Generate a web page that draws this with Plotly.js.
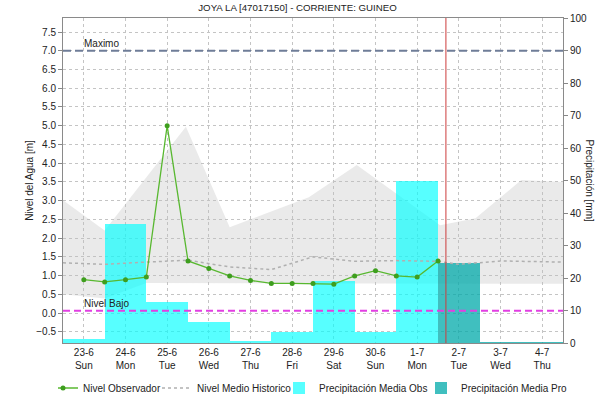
<!DOCTYPE html>
<html>
<head>
<meta charset="utf-8">
<script src="https://cdn.plot.ly/plotly-3.0.1.min.js"></script>
<style>html,body{margin:0;padding:0;background:#fff;}#chart{width:595px;height:397px;}</style>
</head>
<body>
<div id="chart"></div>
<script>
// ---- data ----
const dates = ['23-6','24-6','25-6','26-6','27-6','28-6','29-6','30-6','1-7','2-7','3-7','4-7'];
const weekdays = ['Sun','Mon','Tue','Wed','Thu','Fri','Sat','Sun','Mon','Tue','Wed','Thu'];
const dayIndex = [0,1,2,3,4,5,6,7,8,9,10,11];

// observed water level (every half day)
const levelX = [0,0.5,1,1.5,2,2.5,3,3.5,4,4.5,5,5.5,6,6.5,7,7.5,8,8.5];
const levelObs = [0.89,0.83,0.89,0.96,5.0,1.39,1.19,0.99,0.87,0.79,0.79,0.79,0.77,0.99,1.13,0.99,0.96,1.39];

// historic median level
const medianX = [-0.5,0.5,1.5,2.5,3.5,4.5,5.5,6.5,7.5,8.5,9.0,10.0,11.5];
const medianLevel = [1.34,1.30,1.36,1.41,1.23,1.16,1.50,1.38,1.40,1.38,1.30,1.39,1.36];

// historic range band
const bandUpperX = [-0.5,0.5,2.45,3.5,5.4,6.55,8.55,9.4,10.5,11.5];
const bandUpper = [3.01,2.2,4.97,2.29,3.09,3.95,2.34,2.53,3.55,3.5];
const bandLowerX = [-0.5,0.5,1.5,11.5];
const bandLower = [0.5,0.39,0.8,0.78];

// precipitation (mm)
const precipObsX = [0,1,2,3,4,5,6,7,8];
const precipObs = [1.1,36.5,12.6,6.5,0.7,3.4,19.1,3.4,49.8];
const precipProX = [9,10,11];
const precipPro = [24.7,0.4,0.4];

// reference levels
const nivelMaximo = 7.0;
const nivelBajo = 0.06;
const nowDay = 8.69;

// ---- build ----
const ticktext = dates.map((d,i)=>d+'<br>'+weekdays[i]);
const fullX = [-0.5, 11.5];
const bandX = bandUpperX.concat(bandLowerX.slice().reverse());
const bandY = bandUpper.concat(bandLower.slice().reverse());

const fontFam = '"Liberation Sans", Arial, sans-serif';

const traces = [
  {x: bandX, y: bandY, type:'scatter', mode:'lines', fill:'toself',
   fillcolor:'rgba(190,190,190,0.32)', line:{width:0}, hoverinfo:'skip',
   showlegend:false, xaxis:'x', yaxis:'y'},
  {x: precipObsX, y: precipObs, type:'bar', width:1, name:'Precipitación Media Obs',
   marker:{color:'rgba(0,255,255,0.66)', line:{width:0}}, xaxis:'x', yaxis:'y2',
   legendrank:3, legendwidth:112},
  {x: precipProX, y: precipPro, type:'bar', width:1, name:'Precipitación Media Pro',
   marker:{color:'rgba(0,170,170,0.75)', line:{width:0}}, xaxis:'x', yaxis:'y2',
   legendrank:4, legendwidth:112},
  {x: fullX, y: [nivelMaximo,nivelMaximo], type:'scatter', mode:'lines',
   line:{color:'#6f7d98', width:2, dash:'8px,4px'}, showlegend:false, hoverinfo:'skip', xaxis:'x', yaxis:'y3'},
  {x: fullX, y: [nivelBajo,nivelBajo], type:'scatter', mode:'lines',
   line:{color:'#e23fe2', width:2, dash:'7px,4px'}, showlegend:false, hoverinfo:'skip', xaxis:'x', yaxis:'y3'},
  {x: medianX, y: medianLevel, type:'scatter', mode:'lines', name:'Nivel Medio Historico',
   line:{color:'#b0b0b0', width:1.5, dash:'dot'}, xaxis:'x', yaxis:'y3', legendrank:2, legendwidth:92},
  {x: levelX, y: levelObs, type:'scatter', mode:'lines+markers', name:'Nivel Observador',
   line:{color:'#58b830', width:1.3}, marker:{color:'#3e9e1e', size:5},
   xaxis:'x', yaxis:'y3', legendrank:1, legendwidth:84}
];

const yRange = [-0.8, 7.875];
const layout = {
  width:595, height:397,
  margin:{l:63, r:32, t:18, b:54, pad:0, autoexpand:false},
  paper_bgcolor:'#ffffff', plot_bgcolor:'#ffffff',
  font:{family:fontFam, size:10, color:'#222'},
  title:{text:'JOYA LA [47017150] - CORRIENTE: GUINEO', font:{size:9.7, color:'#222'},
         x:0.5, xref:'container', y:0.982, yref:'container', yanchor:'middle'},
  barmode:'overlay', bargap:0,
  showlegend:true,
  legend:{orientation:'h', x:-0.01, xanchor:'left', xref:'paper', y:-0.1385, yref:'paper',
          yanchor:'middle', font:{size:10, color:'#222'}, itemwidth:30, indentation:-15,
          tracegroupgap:0, traceorder:'normal', bgcolor:'rgba(0,0,0,0)', borderwidth:0},
  xaxis:{range:[-0.5,11.5], tickmode:'array', tickvals:dayIndex, ticktext:ticktext,
         showgrid:true, gridcolor:'#c4c4c4', griddash:'dot', gridwidth:1,
         showline:true, linecolor:'#8a8a8a', mirror:true, ticks:'', zeroline:false,
         tickfont:{size:10, color:'#222'}, fixedrange:true},
  yaxis:{range:yRange, tick0:0, dtick:0.5, tickformat:'.1f', ticks:'outside', ticklen:4,
         tickcolor:'#888', showgrid:true, gridcolor:'#c4c4c4', griddash:'dot', gridwidth:1,
         showline:true, linecolor:'#8a8a8a', mirror:true, zeroline:false,
         tickfont:{size:10, color:'#222'},
         title:{text:'Nivel del Agua [m]', font:{size:10, color:'#222'}, standoff:0}},
  yaxis2:{overlaying:'y', side:'right', range:[0,100], tick0:0, dtick:10, ticks:'outside',
          ticklen:4, tickcolor:'#888', showgrid:false, zeroline:false, showline:false,
          tickfont:{size:10, color:'#222'}},
  yaxis3:{overlaying:'y', range:yRange, visible:false, showgrid:false, zeroline:false},
  shapes:[{type:'line', xref:'x', yref:'paper', x0:nowDay, x1:nowDay, y0:0, y1:1,
           line:{color:'#cc3b3b', width:1}}],
  annotations:[
    {text:'Maximo', xref:'x', yref:'y', x:-0.05, y:nivelMaximo, xanchor:'left', yanchor:'bottom',
     showarrow:false, font:{size:10, color:'#222'}},
    {text:'Nivel Bajo', xref:'x', yref:'y', x:-0.05, y:nivelBajo, xanchor:'left', yanchor:'bottom',
     showarrow:false, font:{size:10, color:'#222'}},
    {text:'Precipitación [mm]', xref:'paper', yref:'paper', x:1.052, y:0.5, xanchor:'center',
     yanchor:'middle', textangle:90, showarrow:false, font:{size:10, color:'#222'}}
  ]
};

Plotly.newPlot('chart', traces, layout, {staticPlot:true, displayModeBar:false});
</script>
</body>
</html>
